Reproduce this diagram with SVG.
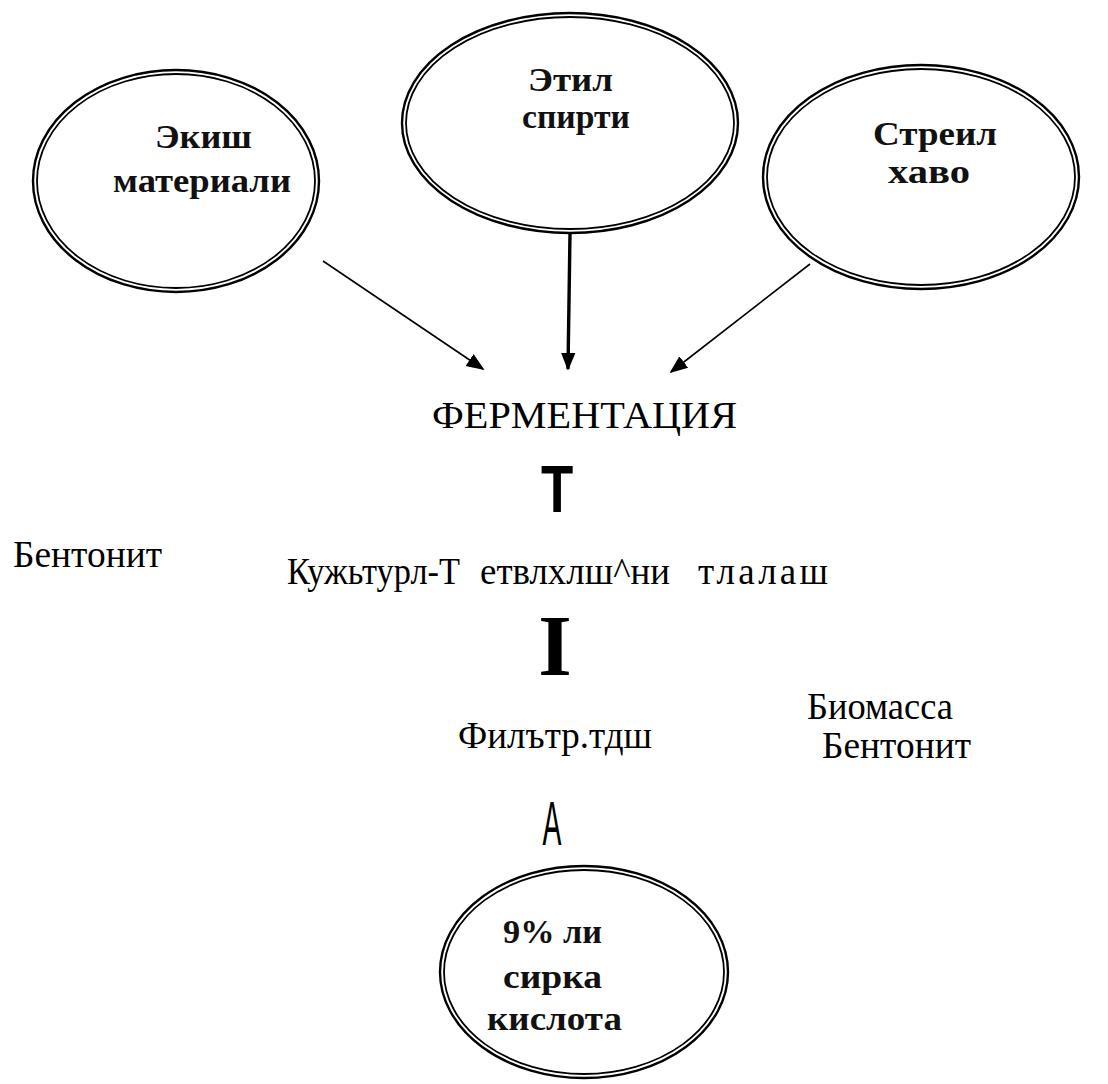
<svg xmlns="http://www.w3.org/2000/svg" width="1108" height="1084" viewBox="0 0 1108 1084">
<defs>
<style>
.o{fill:none;stroke:#000;stroke-width:2.4}
.i{fill:none;stroke:#000;stroke-width:1.8}
.et{font-family:"Liberation Serif",serif;font-weight:bold;font-size:33px;fill:#111}
.t{font-family:"Liberation Serif",serif;font-size:37px;fill:#000}
.ln{stroke:#000;fill:none}
</style>
<marker id="ah" viewBox="0 0 10 10" refX="9" refY="5" markerWidth="18" markerHeight="18" markerUnits="userSpaceOnUse" orient="auto">
<path d="M0,1 L10,5 L0,9 z" fill="#000"/>
</marker>
</defs>
<rect width="1108" height="1084" fill="#fff"/>
<g id="connectors">
<line class="ln" x1="323" y1="261" x2="483" y2="369" stroke-width="1.6" marker-end="url(#ah)"/>
<line class="ln" x1="570" y1="233" x2="568" y2="369" stroke-width="3.4" marker-end="url(#ah)"/>
<line class="ln" x1="810" y1="264" x2="671" y2="372" stroke-width="1.6" marker-end="url(#ah)"/>
</g>
<g id="node-ekish">
<ellipse class="o" cx="176" cy="181" rx="143" ry="111"/>
<ellipse class="i" cx="176" cy="181" rx="139" ry="107"/>
<text class="et" x="155" y="148" textLength="97" lengthAdjust="spacingAndGlyphs">Экиш</text>
<text class="et" x="113" y="192" textLength="178" lengthAdjust="spacingAndGlyphs">материали</text>
</g>
<g id="node-etil">
<ellipse class="o" cx="570" cy="123" rx="168" ry="110"/>
<ellipse class="i" cx="570" cy="123" rx="164" ry="106"/>
<text class="et" x="528" y="91" textLength="85" lengthAdjust="spacingAndGlyphs">Этил</text>
<text class="et" x="522" y="128" textLength="108" lengthAdjust="spacingAndGlyphs">спирти</text>
</g>
<g id="node-streil">
<ellipse class="o" cx="921" cy="177" rx="158" ry="112"/>
<ellipse class="i" cx="921" cy="177" rx="154" ry="108"/>
<text class="et" x="873" y="145" textLength="124" lengthAdjust="spacingAndGlyphs">Стреил</text>
<text class="et" x="888" y="183" textLength="82" lengthAdjust="spacingAndGlyphs">хаво</text>
</g>
<g id="node-fermentation">
<text class="t" x="432" y="428" textLength="305" lengthAdjust="spacingAndGlyphs">ФЕРМЕНТАЦИЯ</text>
</g>
<g id="arrow-T">
<text font-family="Liberation Sans,sans-serif" font-weight="bold" font-size="66" transform="translate(557,512) scale(0.8,1)" text-anchor="middle">Т</text>
</g>
<g id="bentonit-left">
<text class="t" x="13" y="567" textLength="149" lengthAdjust="spacingAndGlyphs">Бентонит</text>
</g>
<g id="node-cultural">
<text class="t" x="287" y="584" textLength="173" lengthAdjust="spacingAndGlyphs">Кужьтурл-Т</text>
<text class="t" x="480" y="584" textLength="190" lengthAdjust="spacingAndGlyphs">етвлхлш^ни</text>
<text class="t" x="698" y="584" textLength="130" lengthAdjust="spacing">тлалаш</text>
</g>
<g id="arrow-I">
<text font-family="Liberation Serif,serif" font-weight="bold" font-size="86" x="555" y="675" text-anchor="middle">I</text>
</g>
<g id="node-filter">
<text class="t" x="458" y="748" textLength="194" lengthAdjust="spacingAndGlyphs">Филътр.тдш</text>
</g>
<g id="node-biomass">
<text class="t" x="807" y="719" textLength="146" lengthAdjust="spacingAndGlyphs">Биомасса</text>
<text class="t" x="822" y="758" textLength="149" lengthAdjust="spacingAndGlyphs">Бентонит</text>
</g>
<g id="arrow-A">
<text font-family="Liberation Sans,sans-serif" font-size="63" transform="translate(552,845) scale(0.45,1)" text-anchor="middle">A</text>
</g>
<g id="node-acid">
<ellipse class="o" cx="584" cy="972" rx="144" ry="106"/>
<ellipse class="i" cx="584" cy="972" rx="140" ry="102"/>
<text class="et" x="503" y="943" textLength="99" lengthAdjust="spacingAndGlyphs">9% ли</text>
<text class="et" x="503" y="988" textLength="99" lengthAdjust="spacingAndGlyphs">сирка</text>
<text class="et" x="487" y="1030" textLength="135" lengthAdjust="spacingAndGlyphs">кислота</text>
</g>
</svg>
